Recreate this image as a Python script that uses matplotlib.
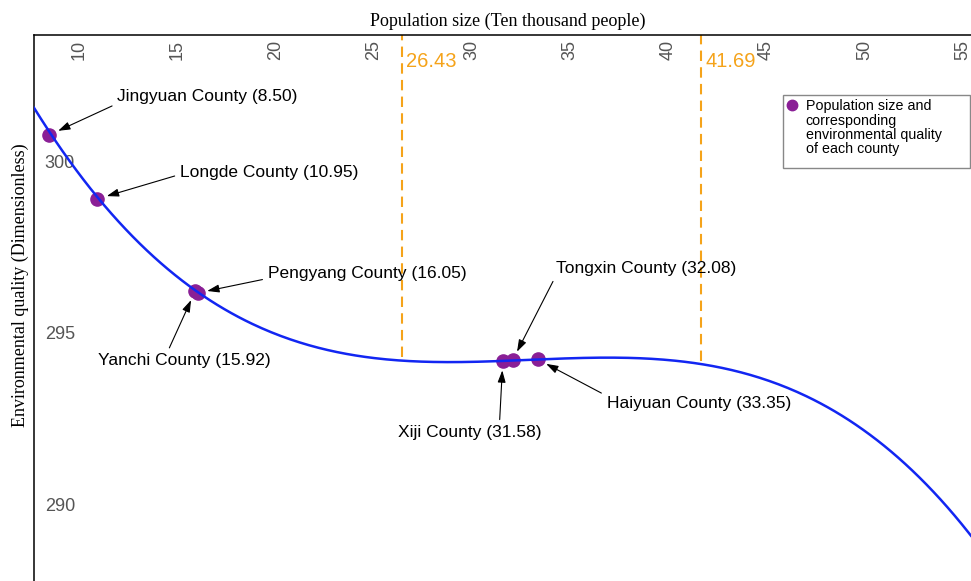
import numpy as np
import matplotlib.pyplot as plt
from matplotlib.lines import Line2D
from matplotlib.patches import Rectangle

plt.rcParams['font.family'] = ['Liberation Sans', 'DejaVu Sans']

# county observations: population (ten thousand people) vs environmental quality
counties = ['Jingyuan County', 'Longde County', 'Yanchi County', 'Pengyang County',
            'Xiji County', 'Tongxin County', 'Haiyuan County']
population = [8.50, 10.95, 15.92, 16.05, 31.58, 32.08, 33.35]
quality = [300.79, 298.92, 296.22, 296.17, 294.19, 294.20, 294.23]

# samples taken along the trend curve
curve_x = [7.77, 8.57, 10.91, 12.61, 14.29, 15.92, 17.85, 19.58, 21.26, 22.94,
           24.67, 26.35, 28.03, 31.44, 36.53, 38.21, 39.94, 41.62, 43.30, 45.03,
           46.35, 48.08, 49.76, 51.44, 53.17, 54.85, 55.41]
curve_y = [301.52, 300.79, 298.92, 298.05, 297.10, 296.20, 295.58, 295.03, 294.65, 294.42,
           294.27, 294.18, 294.15, 294.21, 294.27, 294.30, 294.27, 294.15, 293.92, 293.57,
           293.39, 292.84, 292.16, 291.37, 290.50, 289.53, 289.15]

thresholds = [26.43, 41.69]
xticks = [10, 15, 20, 25, 30, 35, 40, 45, 50, 55]
yticks = [290, 295, 300]
legend_lines = ['Population size and', 'corresponding',
                'environmental quality', 'of each county']

# label placement: (dx, dy) in points from the point, and arrow start on the text box
label_offsets = [(49, 28), (59.5, 18.7), (-70, -50), (50.6, 13.7),
                 (-75.8, -51.8), (31, 66), (49.7, -31.7)]
arrow_relpos = [(0, 0), (0, 0.4), (0.4, 1), (0, 0.2), (0.71, 1), (0, 0), (0, 1)]

purple = '#8a1f96'
blue = '#1226f2'
orange = '#f5a31a'
grey = '#555555'

fig = plt.figure(figsize=(9.71, 5.81), dpi=100)
ax = fig.add_axes([34 / 971, 0, 1 - 34 / 971, 1 - 35 / 581])
ax.set_xlim(7.72, 55.41)
ax.set_ylim(287.75, 303.71)

# cubic trend through the curve samples
coef = np.polyfit(curve_x, curve_y, 3)
trend = np.poly1d(coef)
xs = np.linspace(7.72, 55.41, 400)

ax.scatter(population, quality, s=90, color=purple, zorder=2,
           label=legend_lines[0])
ax.plot(xs, trend(xs), color=blue, lw=1.8, zorder=3)

ytop = ax.get_ylim()[1]
ax.vlines(thresholds, trend(np.array(thresholds)) + 0.1, ytop, colors=orange,
          linestyles=(0, (5, 3)), lw=1.5, zorder=1)
for t in thresholds:
    ax.annotate(f'{t:.2f}', xy=(t, ytop), xytext=(3, -12), textcoords='offset points',
                ha='left', va='top', color=orange, fontsize=14.5)

for name, x, y, off, rp in zip(counties, population, quality, label_offsets, arrow_relpos):
    ax.annotate(f'{name} ({x:.2f})', xy=(x, y), xytext=off, textcoords='offset points',
                ha='left', va='center', fontsize=12.5, color='black', zorder=4,
                arrowprops=dict(arrowstyle='-|>,head_length=0.6,head_width=0.2',
                                mutation_scale=12, color='black', lw=0.8,
                                shrinkA=2, shrinkB=7, relpos=rp))

# axes styling: top x axis, labels drawn inside the frame
ax.xaxis.tick_top()
ax.set_xticks(xticks)
ax.set_yticks(yticks)
ax.tick_params(axis='x', length=0, pad=-18, labelsize=13, labelcolor=grey, labelrotation=90)
ax.tick_params(axis='y', length=0, pad=-29.5, labelsize=13, labelcolor=grey)
for side in ['bottom', 'right']:
    ax.spines[side].set_visible(False)
for side in ['top', 'left']:
    ax.spines[side].set_linewidth(1.1)
    ax.spines[side].set_color('black')

ax.set_xlabel('Population size (Ten thousand people)', fontfamily='Liberation Serif', fontsize=13)
ax.xaxis.set_label_position('top')
ax.xaxis.set_label_coords(0.506, 1.0165)
ax.set_ylabel('Environmental quality (Dimensionless)', fontfamily='Liberation Serif', fontsize=13)
ax.yaxis.set_label_coords(-0.005, 0.542)

# legend: one marker row, wrapped description, boxed separately so it can be wider
handles = [Line2D([], [], marker='o', ls='none', color=purple, markersize=7.5)]
handles += [Line2D([], [], ls='none') for _ in legend_lines[1:]]
ax.legend(handles, legend_lines, loc='upper left', bbox_to_anchor=(0.799, 0.890),
          fontsize=10.3, frameon=False, borderpad=0.3, handlelength=0.7,
          handletextpad=0.6, labelspacing=0.02, borderaxespad=0)
ax.add_patch(Rectangle((0.799, 0.757), 0.200, 0.133, transform=ax.transAxes,
                       facecolor='none', edgecolor='#888888', lw=1.0, zorder=5))

fig.savefig('out.png', dpi=100, facecolor='white')
